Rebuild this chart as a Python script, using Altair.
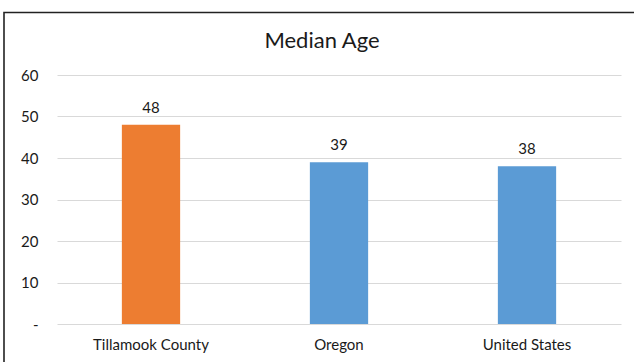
import altair as alt
import pandas as pd

# Median age by area
areas = ["Tillamook County", "Oregon", "United States"]
median_age = [48, 39, 38]
bar_colors = ["#ED7D31", "#5B9BD5", "#5B9BD5"]
chart_title = "Median Age"

df = pd.DataFrame({"area": areas, "age": median_age, "color": bar_colors})

FONT = "Lato"
TEXT = "#1a1a1a"

x_enc = alt.X(
    "area:N",
    sort=areas,
    title=None,
    scale=alt.Scale(paddingInner=0.69, paddingOuter=0.345),
    axis=alt.Axis(labelAngle=0, labelFontSize=15, labelColor=TEXT, labelFont=FONT,
                  labelPadding=13, ticks=False, domain=False, grid=False),
)
y_enc = alt.Y(
    "age:Q",
    title=None,
    scale=alt.Scale(domain=[0, 60]),
    axis=alt.Axis(values=[0, 10, 20, 30, 40, 50, 60],
                  labelExpr="datum.value == 0 ? '-' : datum.label",
                  labelFontSize=15, labelColor=TEXT, labelFont=FONT, labelPadding=19,
                  ticks=False, domain=False, gridColor="#D9D9D9", gridWidth=1.2),
)

base = alt.Chart(df)

bars = base.mark_bar().encode(
    x=x_enc,
    y=y_enc,
    color=alt.Color("color:N", scale=None, legend=None),
)

labels = base.mark_text(baseline="bottom", dy=-9, fontSize=15, font=FONT, color=TEXT).encode(
    x=alt.X("area:N", sort=areas),
    y="age:Q",
    text=alt.Text("age:Q", format=".0f"),
)

one_row = pd.DataFrame({"k": [0]})

# Outer chart frame
frame = alt.Chart(one_row).mark_rect(
    fill=None, stroke="#222222", strokeWidth=1.6
).encode(
    x=alt.value(-53), x2=alt.value(600), y=alt.value(-62.5), y2=alt.value(320)
)

# Chart heading, centred on the whole chart area
heading = alt.Chart(one_row).mark_text(
    fontSize=22, font=FONT, color=TEXT, align="center", baseline="alphabetic"
).encode(
    x=alt.value(265), y=alt.value(-27), text=alt.value(chart_title)
)

chart = (
    alt.layer(frame, bars, labels, heading)
    .properties(
        width=564,
        height=249,
        autosize=alt.AutoSizeParams(type="none"),
        padding={"left": 57, "top": 75, "right": 13, "bottom": 38},
    )
    .configure_view(stroke=None)
)

chart.save("out.html", embed_options={"renderer": "svg", "actions": False})
